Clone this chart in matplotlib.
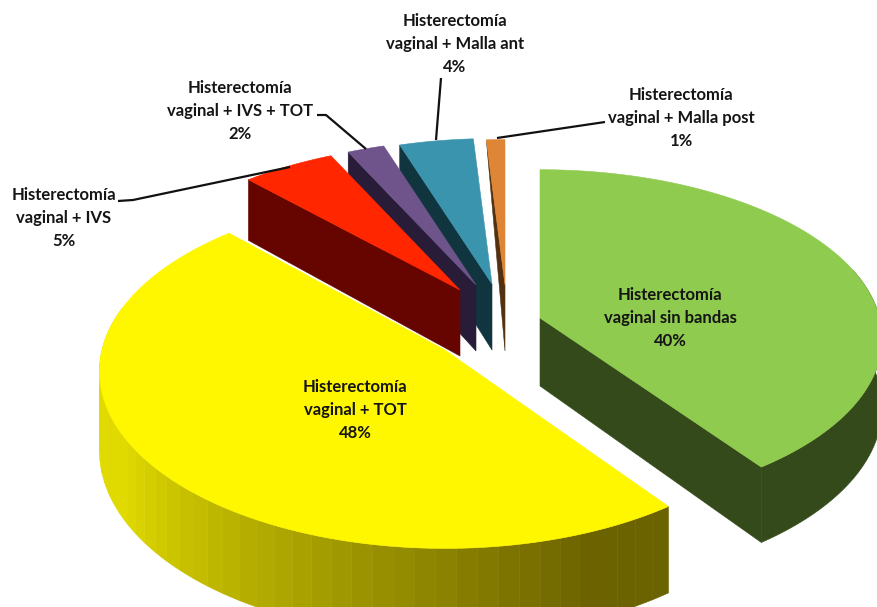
import numpy as np
import matplotlib
matplotlib.use('Agg')
import matplotlib.pyplot as plt
from matplotlib.patches import Polygon

plt.rcParams['font.family'] = ['Lato', 'DejaVu Sans']

labels = ['Histerectomía\nvaginal sin bandas\n40%',
          'Histerectomía\nvaginal + TOT\n48%',
          'Histerectomía\nvaginal + IVS\n5%',
          'Histerectomía\nvaginal + IVS + TOT\n2%',
          'Histerectomía\nvaginal + Malla ant\n4%',
          'Histerectomía\nvaginal + Malla post\n1%']
values = [40, 48, 5, 2, 4, 1]

top_colors = ['#8FCB4E', '#FFF700', '#FF2600', '#6F548C', '#3A94AE', '#DF8636']
side_colors = ['#344A1A', '#6B6200', '#660500', '#281C38', '#10353F', '#523010']

# layout of the fake 3d pie, in pixels
center_x, center_y = 505, 300
shift_x = [35, -60, -45, -29, -13, 0]
shift_y = [18, 50, -10, -15, -16, -15]
scales_x = [1.02, 1.03, 1.01, 1, 1, 1]
scales_y = [1.02, 1.07, 1.01, 1, 1, 1]
depths = [68, 78, 66, 66, 66, 66]
outer_drop = [1, 1, 1, 1, 1, 0]
radius_x, radius_y = 333, 163
persp = 0.121

label_x = [670, 355, 64, 240, 455, 681]
label_y = [318, 410, 218, 111, 44, 118]

leaders = [([118, 133, 290], [201, 200, 167]),
           ([317, 326, 366], [115, 115, 149]),
           ([441, 436], [78, 140]),
           ([497, 605], [138, 122])]


def project(i, theta, z=0.0):
    # theta is clockwise from the back of the disc, z goes down
    xx = np.sin(theta)
    yy = np.cos(theta)
    s = 1 / (1 + persp * yy)
    px = center_x + shift_x[i] + radius_x * scales_x[i] * xx * s
    py = center_y + shift_y[i] - radius_y * scales_y[i] * yy * s + z * s
    return px, py


def apex(i, z=0.0):
    return center_x + shift_x[i], center_y + shift_y[i] + z


def add_poly(ax, xs, ys, color, zorder):
    ax.add_patch(Polygon(np.column_stack([xs, ys]), closed=True, facecolor=color,
                         edgecolor=color, linewidth=0.4, zorder=zorder))


def mix(c1, c2, t):
    a = np.array(matplotlib.colors.to_rgb(c1))
    b = np.array(matplotlib.colors.to_rgb(c2))
    return tuple(a + (b - a) * t)


fig = plt.figure(figsize=(8.78, 6.07), dpi=100)
ax = fig.add_axes([0, 0, 1, 1])
ax.set_xlim(0, 878)
ax.set_ylim(607, 0)
ax.axis('off')

edges = np.cumsum([0] + values) / sum(values) * 2 * np.pi
# painted back to front
order = [5, 4, 3, 2, 0, 1]
for n, i in enumerate(order):
    t0, t1 = edges[i], edges[i + 1]
    base = 10 + n * 3
    d = depths[i]

    if i == 0:
        # front face and outer wall of the green slice
        th = np.linspace(np.pi / 2 - 0.3, t1, 60)
        x1, y1 = project(i, th)
        x2, y2 = project(i, th[::-1], d)
        add_poly(ax, np.r_[x1, x2], np.r_[y1, y2], side_colors[i], base)
        ax_, ay_ = apex(i)
        bx_, by_ = apex(i, d)
        ex, ey = project(i, t1)
        fx, fy = project(i, t1, d)
        add_poly(ax, [ax_, ex, fx, bx_], [ay_, ey, fy, by_], side_colors[i], base)
    elif i == 1:
        # yellow outer wall in bands, dark on the right, light on the left
        bands = np.linspace(t0, 3 * np.pi / 2 + 0.25, 46)
        for k in range(len(bands) - 1):
            th = np.linspace(bands[k], bands[k + 1], 5)
            x1, y1 = project(i, th)
            x2, y2 = project(i, th[::-1], d)
            f = (np.degrees(bands[k]) - 156) / 84
            f = min(1.0, max(0.0, f))
            add_poly(ax, np.r_[x1, x2], np.r_[y1, y2], mix(side_colors[i], '#E0DA00', f), base)
    else:
        # side face seen on the left of the small slices
        ax_, ay_ = apex(i)
        bx_, by_ = apex(i, d)
        ex, ey = project(i, t0)
        fx, fy = project(i, t0, d * outer_drop[i])
        add_poly(ax, [ax_, ex, fx, bx_], [ay_, ey, fy, by_], side_colors[i], base)

    th = np.linspace(t0, t1, 120)
    x1, y1 = project(i, th)
    ax_, ay_ = apex(i)
    add_poly(ax, np.r_[ax_, x1], np.r_[ay_, y1], top_colors[i], base + 1)

for xs, ys in leaders:
    ax.plot(xs, ys, color='#111111', linewidth=1.6, zorder=40, solid_capstyle='butt')

for i in range(len(labels)):
    ax.text(label_x[i], label_y[i], labels[i], ha='center', va='center', fontsize=12,
            fontweight='bold', color='#151515', linespacing=1.54, zorder=50)

fig.savefig('out.png', dpi=100)
